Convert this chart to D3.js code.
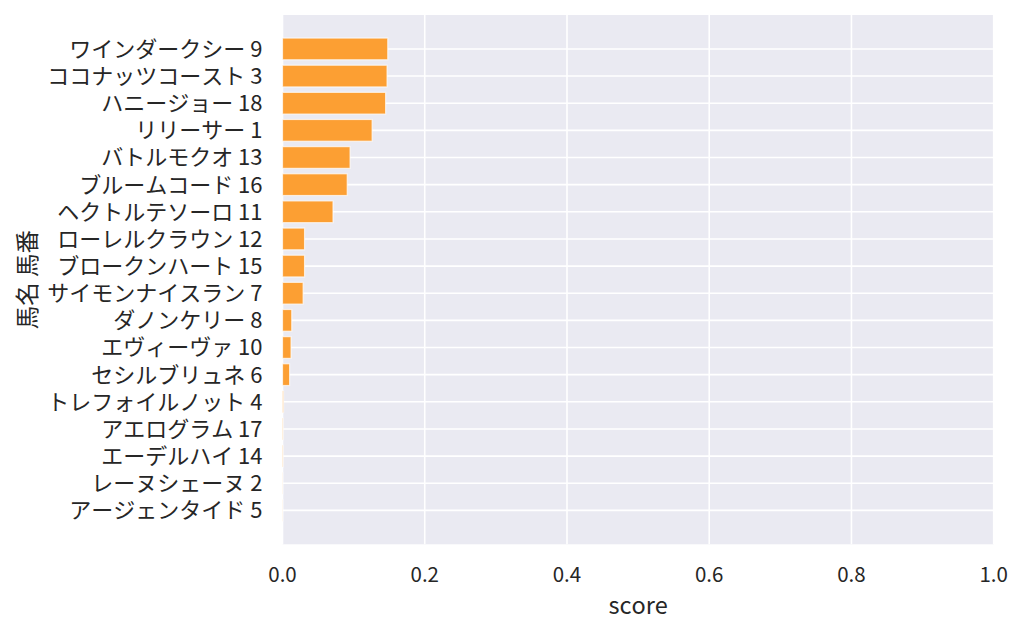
<!DOCTYPE html>
<html><head><meta charset="utf-8">
<script src="https://cdn.jsdelivr.net/npm/d3@7"></script>
<style>
body{margin:0;background:#fff;}
text{font-family:"Noto Sans CJK JP","Noto Sans",sans-serif;fill:#262626;font-kerning:none;}
</style></head>
<body><svg id="c" width="1024" height="634"></svg>
<script>
const horses = ["ワインダークシー 9","ココナッツコースト 3","ハニージョー 18","リリーサー 1","バトルモクオ 13","ブルームコード 16","ヘクトルテソーロ 11","ローレルクラウン 12","ブロークンハート 15","サイモンナイスラン 7","ダノンケリー 8","エヴィーヴァ 10","セシルブリュネ 6","トレフォイルノット 4","アエログラム 17","エーデルハイ 14","レーヌシェーヌ 2","アージェンタイド 5"];
const scores = [0.148,0.147,0.145,0.126,0.095,0.091,0.071,0.031,0.031,0.029,0.013,0.012,0.010,0.0015,0.0008,0.0008,0.0003,0.0003];
const xTicks = [0,0.2,0.4,0.6,0.8,1.0];
const xLabel = "score";
const yLabel = "馬名 馬番";

const L=282.5,R=993.7,T=15,B=544.3;
const svg=d3.select("#c");
const x=d3.scaleLinear().domain([0,1]).range([L,R]);
const y=d3.scaleLinear().domain([-1.25,horses.length-1+1.25]).range([T,B]);
const band=y(1)-y(0);

svg.append("rect").attr("x",L).attr("y",T).attr("width",R-L).attr("height",B-T).attr("fill","#eaeaf2");
// grid
svg.append("g").selectAll("line").data(xTicks).join("line")
 .attr("x1",d=>x(d)).attr("x2",d=>x(d)).attr("y1",T).attr("y2",B)
 .attr("stroke","#fff").attr("stroke-width",1.6);
svg.append("g").selectAll("line").data(horses).join("line")
 .attr("x1",L).attr("x2",R).attr("y1",(d,i)=>y(i)).attr("y2",(d,i)=>y(i))
 .attr("stroke","#fff").attr("stroke-width",1.6);
// bars
svg.append("g").selectAll("rect").data(scores).join("rect")
 .attr("x",x(0)).attr("y",(d,i)=>y(i)-band*0.4).attr("height",band*0.8)
 .attr("width",d=>x(d)-x(0))
 .attr("fill","#fc9f33").attr("stroke","#fff").attr("stroke-opacity",0.7).attr("stroke-width",1.2);
// y tick labels
svg.append("g").selectAll("text").data(horses).join("text")
 .attr("x",L-20).attr("y",(d,i)=>y(i)).attr("dy","0.36em").attr("text-anchor","end")
 .attr("font-size",22).text(d=>d);
// x tick labels
svg.append("g").selectAll("text").data(xTicks).join("text")
 .attr("x",d=>x(d)).attr("y",B+38).attr("text-anchor","middle")
 .attr("font-size",20.5).text(d=>d.toFixed(1));
svg.append("text").attr("x",(L+R)/2).attr("y",B+70).attr("text-anchor","middle")
 .attr("font-size",23.5).text(xLabel);
svg.append("text").attr("transform",`translate(36,${(T+B)/2}) rotate(-90)`)
 .attr("text-anchor","middle").attr("font-size",23.5).text(yLabel);
</script></body></html>
